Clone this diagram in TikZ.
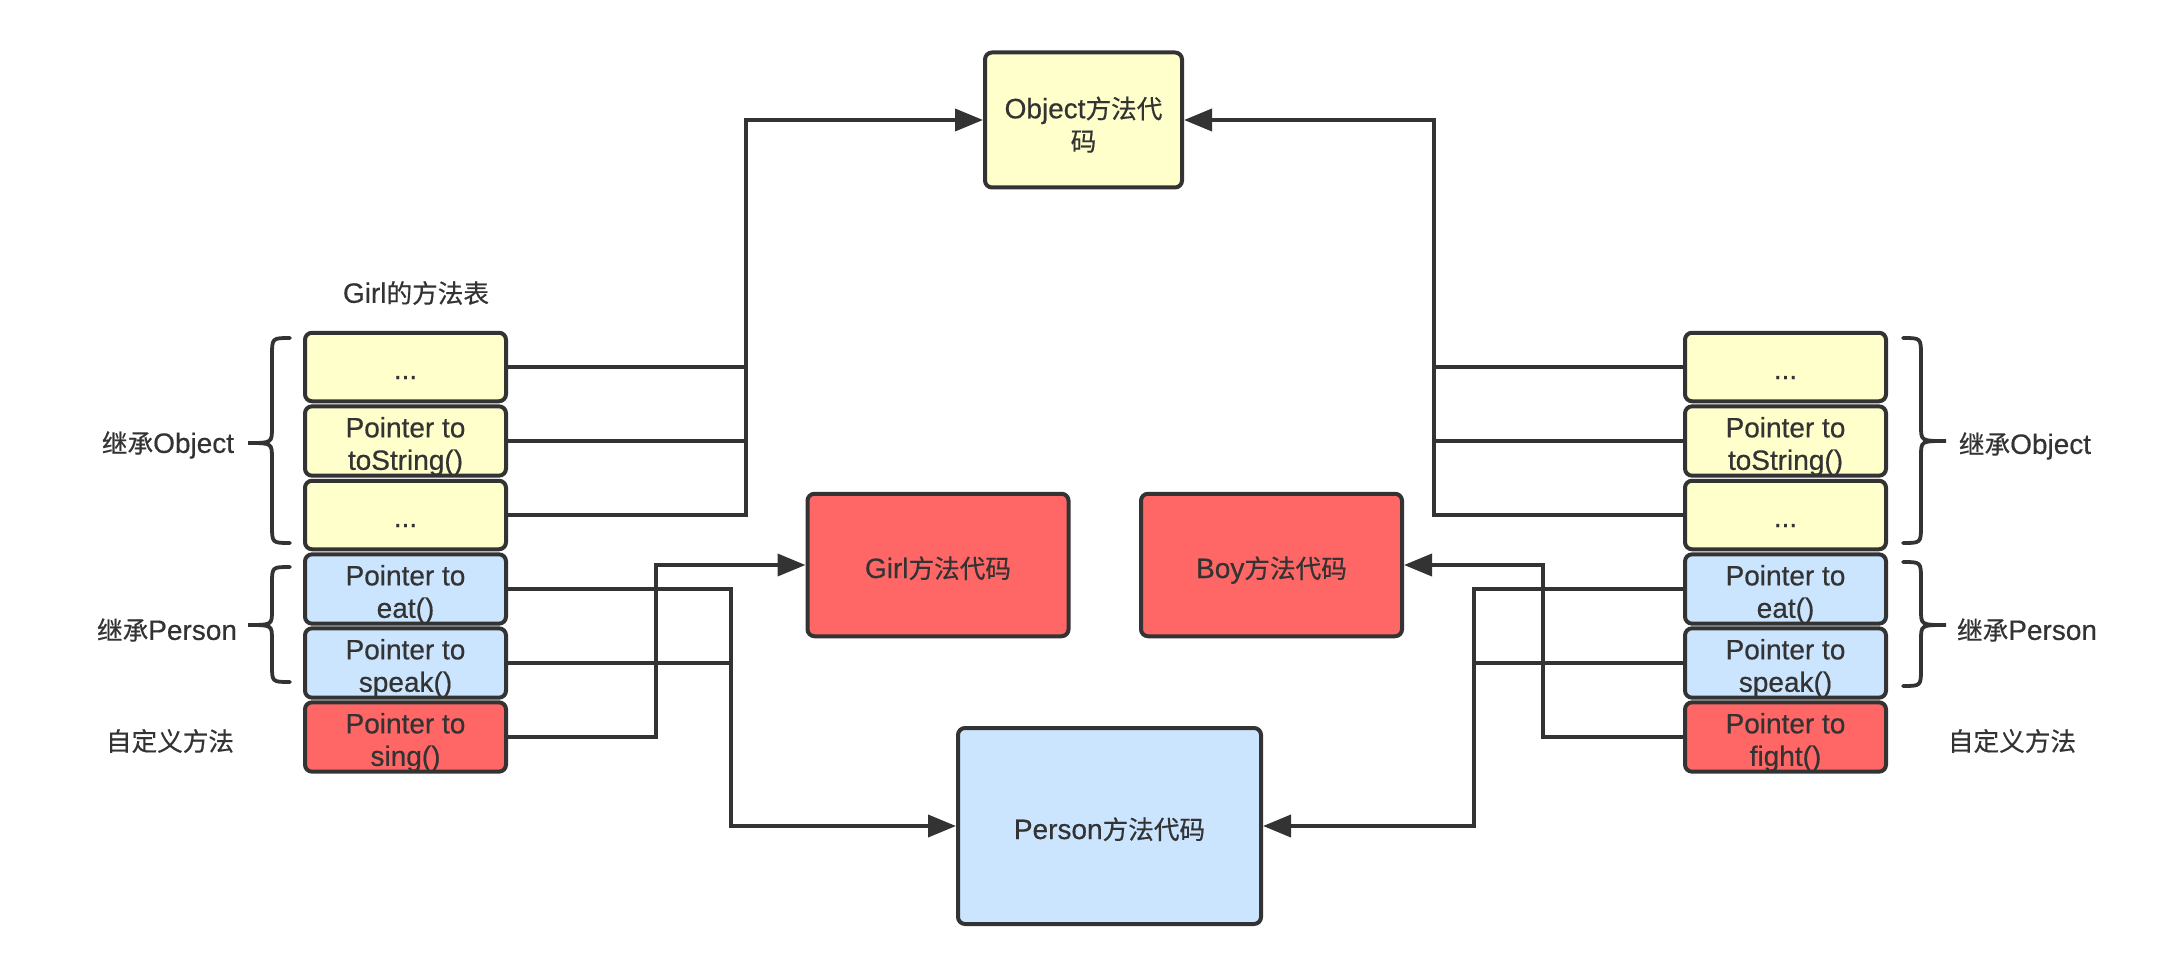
\documentclass[tikz,border=0pt]{standalone}
\usepackage{fontspec}
\setmainfont[FakeBold=0.5,AutoFakeBold=0.5]{Liberation Sans}
\newfontfamily\cjk[Scale=0.915,AutoFakeBold=0.5,FakeBold=0.5]{Noto Sans CJK SC}
\usetikzlibrary{arrows.meta}
\definecolor{ink}{HTML}{333333}
\definecolor{yel}{HTML}{FFFFCC}
\definecolor{blu}{HTML}{CCE5FF}
\definecolor{red}{HTML}{FF6666}
\newcommand{\ptrto}[1]{\rule{0pt}{31pt}Pointer to\\#1}
\newcommand{\dotsrow}{\rule[-6pt]{0pt}{36pt}...}
\begin{document}
\begin{tikzpicture}[x=1pt,y=-1pt,
  every node/.style={font=\fontsize{28}{32.5}\selectfont, text=ink},
  box/.style={draw=ink, line width=4pt, rounded corners=7pt, inner sep=0pt, align=center},
  cell/.style={box, minimum width=201pt, minimum height=68.5pt},
  ycell/.style={cell, fill=yel},
  bcell/.style={cell, fill=blu},
  rcell/.style={cell, fill=red},
  onel/.style={text height=30pt, text depth=4pt},
  wire/.style={draw=ink, line width=3.8pt},
  arr/.style={wire, -{Triangle[length=28pt,width=22pt]}},
  bracepath/.style={draw=ink, line width=3.8pt, line cap=round},
  lbl/.style={inner sep=0pt}
]
\useasboundingbox (0,0) rectangle (2181,976);

% ---- Girl table
\node[lbl] (gtitle) at (416,293) {Girl{\cjk 的方法表}};
\node[ycell] (g1) at (405.5,367) {\dotsrow};
\node[ycell] (g2) at (405.5,441) {\ptrto{toString()}};
\node[ycell] (g3) at (405.5,515) {\dotsrow};
\node[bcell] (g4) at (405.5,589) {\ptrto{eat()}};
\node[bcell] (g5) at (405.5,663) {\ptrto{speak()}};
\node[rcell] (g6) at (405.5,737) {\ptrto{sing()}};

% ---- Boy table
\node[ycell] (b1) at (1785.5,367) {\dotsrow};
\node[ycell] (b2) at (1785.5,441) {\ptrto{toString()}};
\node[ycell] (b3) at (1785.5,515) {\dotsrow};
\node[bcell] (b4) at (1785.5,589) {\ptrto{eat()}};
\node[bcell] (b5) at (1785.5,663) {\ptrto{speak()}};
\node[rcell] (b6) at (1785.5,737) {\ptrto{fight()}};

% ---- code boxes
\node[box, fill=yel, minimum width=197pt, minimum height=135pt] (obj) at (1083.5,120) {\rule{0pt}{31pt}Object{\cjk 方法代}\\{\cjk 码}};
\node[box, onel, fill=red, minimum width=261pt, minimum height=142.5pt] (gcode) at (938,565) {Girl{\cjk 方法代码}};
\node[box, onel, fill=red, minimum width=261pt, minimum height=142.5pt] (bcode) at (1271.5,565) {Boy{\cjk 方法代码}};
\node[box, onel, fill=blu, minimum width=303pt, minimum height=196pt] (person) at (1109.5,826) {Person{\cjk 方法代码}};

% ---- side labels
\node[lbl] (lobj) at (168,445) {{\cjk 继承}Object};
\node[lbl] (lper) at (167,630) {{\cjk 继承}Person};
\node[lbl] (lown) at (170,741) {\cjk 自定义方法};
\node[lbl] (robj) at (2025,446) {{\cjk 继承}Object};
\node[lbl] (rper) at (2027,630) {{\cjk 继承}Person};
\node[lbl] (rown) at (2012,741) {\cjk 自定义方法};

% ---- braces
\draw[bracepath] (290,338) .. controls (272,338) .. (272,356) -- (272,427)
  .. controls (272,443) .. (248,443) .. controls (272,443) .. (272,459)
  -- (272,525) .. controls (272,543) .. (290,543);
\draw[bracepath] (290,567) .. controls (272,567) .. (272,584) -- (272,610)
  .. controls (272,625) .. (248,625) .. controls (272,625) .. (272,640)
  -- (272,665) .. controls (272,682) .. (290,682);
\draw[bracepath] (1903,338) .. controls (1921,338) .. (1921,356) -- (1921,426)
  .. controls (1921,441) .. (1946,441) .. controls (1921,441) .. (1921,456)
  -- (1921,525) .. controls (1921,543) .. (1903,543);
\draw[bracepath] (1903,562) .. controls (1921,562) .. (1921,580) -- (1921,610)
  .. controls (1921,625) .. (1946,625) .. controls (1921,625) .. (1921,640)
  -- (1921,668) .. controls (1921,686) .. (1903,686);

% ---- bus x positions
\coordinate (gobjx) at (746,0);
\coordinate (geatx) at (731,0);
\coordinate (gsingx) at (656,0);
\coordinate (bobjx) at (1434,0);
\coordinate (beatx) at (1474,0);
\coordinate (bfightx) at (1543,0);

% ---- Girl connectors
\draw[wire] (g1.east) -- (g1.east -| gobjx);
\draw[wire] (g2.east) -- (g2.east -| gobjx);
\draw[arr] (g3.east) -| (obj.west -| gobjx) -- (obj.west);
\draw[arr] (g4.east) -| (person.west -| geatx) -- (person.west);
\draw[wire] (g5.east) -- (g5.east -| geatx);
\draw[arr] (g6.east) -| (gcode.west -| gsingx) -- (gcode.west);

% ---- Boy connectors
\draw[wire] (b1.west) -- (b1.west -| bobjx);
\draw[wire] (b2.west) -- (b2.west -| bobjx);
\draw[arr] (b3.west) -| (obj.east -| bobjx) -- (obj.east);
\draw[arr] (b4.west) -| (person.east -| beatx) -- (person.east);
\draw[wire] (b5.west) -- (b5.west -| beatx);
\draw[arr] (b6.west) -| (bcode.east -| bfightx) -- (bcode.east);
\end{tikzpicture}
\end{document}
